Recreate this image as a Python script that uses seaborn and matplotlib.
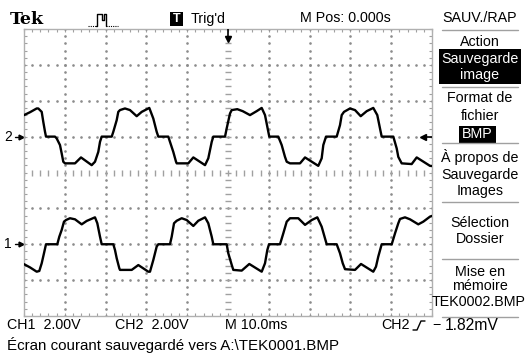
import numpy as np
import pandas as pd
import matplotlib
matplotlib.use("Agg")
import matplotlib.pyplot as plt
import matplotlib.transforms as mtransforms
from matplotlib.patches import Rectangle
from matplotlib.lines import Line2D
import seaborn as sns

ms_per_div = 10.0
volts_per_div = 2.0
ch1_offset_div = -2.0
ch2_offset_div = 1.0
trig_time_ms = 50.0

ch2_t = [0.0, 1.47, 3.11, 3.50, 4.34, 4.73, 5.15, 5.39, 7.60, 8.01, 8.82, 9.24, 9.63,
         10.05, 12.50, 13.97, 16.59, 17.40, 18.21, 18.63, 19.04, 21.50, 21.89, 22.72,
         23.11, 23.53, 24.75, 25.98, 27.62, 28.85, 30.71, 31.69, 32.52, 32.92, 35.37,
         35.78, 36.59, 37.26, 37.43, 40.27, 41.50, 44.37, 45.17, 46.01, 46.40, 49.27,
         49.68, 50.49, 50.91, 52.28, 53.60, 55.39, 57.03, 58.26, 59.07, 59.88, 60.12,
         62.33, 63.16, 63.97, 64.39, 65.20, 67.65, 68.88, 72.13, 72.96, 73.36, 74.02,
         76.64, 77.45, 77.87, 78.43, 79.90, 81.13, 82.53, 84.00, 85.61, 86.59, 87.25,
         87.67, 90.52, 91.35, 91.74, 92.57, 95.02, 96.25, 99.51, 100.0]
ch2_v = [1.20, 1.36, 1.57, 1.57, 1.38, 0.82, 0.27, 0.0, 0.0, -0.10, -0.47, -0.94, -1.40,
         -1.49, -1.49, -1.16, -1.59, -1.40, -0.85, -0.29, 0.0, 0.0, 0.27, 0.92,
         1.38, 1.48, 1.57, 1.48, 1.14, 1.38, 1.60, 1.01, 0.27, 0.0, 0.0,
         -0.29, -0.85, -1.40, -1.49, -1.49, -1.16, -1.59, -1.21, -0.29, 0.0, 0.0,
         0.46, 1.29, 1.48, 1.53, 1.42, 1.20, 1.42, 1.60, 1.20, 0.27, 0.0,
         0.0, -0.47, -1.13, -1.40, -1.49, -1.49, -1.16, -1.63, -1.21, -0.47, 0.0,
         0.0, 0.64, 1.20, 1.38, 1.57, 1.48, 1.14, 1.42, 1.60, 1.20, 0.46,
         0.0, 0.0, -0.66, -1.13, -1.49, -1.53, -1.16, -1.63, -1.64]

ch1_t = [0.0, 1.47, 3.11, 3.75, 4.34, 4.90, 5.39, 8.16, 8.65, 9.24, 9.80, 10.29, 11.27,
         12.50, 14.14, 15.37, 17.40, 17.97, 18.63, 19.04, 21.89, 22.30, 22.72, 23.36,
         23.53, 26.40, 28.02, 30.47, 30.88, 31.69, 32.52, 32.92, 35.78, 36.20, 36.77,
         37.43, 38.65, 39.88, 41.50, 42.72, 44.37, 45.17, 46.01, 46.40, 49.68, 50.07,
         50.91, 51.30, 53.36, 55.22, 58.26, 59.07, 59.64, 60.05, 62.75, 63.56, 64.39,
         65.20, 67.23, 68.88, 70.52, 71.89, 72.96, 73.77, 74.19, 76.64, 77.45, 78.12,
         78.68, 81.13, 82.60, 85.61, 86.27, 86.83, 87.67, 90.13, 90.94, 91.74, 92.16,
         93.38, 94.61, 96.64, 97.87, 99.51, 100.0]
ch1_v = [-1.11, -1.29, -1.53, -1.49, -1.06, -0.50, 0.0, 0.0, 0.42, 0.80, 1.26, 1.35, 1.45,
         1.39, 1.11, 1.30, 1.50, 1.17, 0.42, 0.0, 0.0, -0.32, -0.78, -1.34,
         -1.43, -1.43, -1.16, -1.53, -1.53, -0.88, -0.13, 0.0, 0.0, 0.42, 1.17,
         1.31, 1.45, 1.35, 1.02, 1.31, 1.50, 1.17, 0.42, 0.0, 0.0, -0.50,
         -1.15, -1.43, -1.47, -1.10, -1.53, -1.06, -0.32, 0.0, 0.0, 0.61, 1.26,
         1.45, 1.45, 1.08, 1.35, 1.50, 0.98, 0.33, 0.0, 0.0, -0.50, -1.06,
         -1.39, -1.43, -1.10, -1.53, -1.25, -0.69, 0.0, 0.0, 0.61, 1.17, 1.41,
         1.50, 1.39, 1.11, 1.26, 1.54, 1.58]

top_texts = ["Tek", "Trig'd", "M Pos: 0.000s", "SAUV./RAP"]
bottom_texts = ["CH1  2.00V", "CH2  2.00V", "M 10.0ms", "CH2"]
trig_level_parts = ["\u2212", "1.82mV"]
status_text = "\u00c9cran courant sauvegard\u00e9 vers A:\\TEK0001.BMP"

# ---------------- figure ----------------
sns.set_theme(style="white")
plt.rcParams["font.family"] = ["Liberation Sans", "DejaVu Sans"]

W, H = 525, 354
fig = plt.figure(figsize=(W / 100, H / 100), dpi=100)
fig.patch.set_facecolor("white")
ax = fig.add_axes([24 / W, 1 - 316 / H, 408 / W, 287 / H])
ax.set_facecolor("white")

GRID = "#8c8c8c"
TICKC = "#a0a0a0"
BORDER = "#b0b0b0"

def fx(x):
    return x / W

def fy(y):
    return 1 - y / H

def ftext(x, y, s, ha="left", **kw):
    kw.setdefault("fontsize", 10.3)
    kw.setdefault("color", "black")
    fig.text(fx(x), fy(y), s, ha=ha, va="center", **kw)

def fline(xs, ys, **kw):
    fig.add_artist(Line2D([fx(v) for v in xs], [fy(v) for v in ys],
                          transform=fig.transFigure, **kw))

def frect(x0, y0, x1, y1, **kw):
    fig.add_artist(Rectangle((fx(x0), fy(y1)), fx(x1) - fx(x0), fy(y0) - fy(y1),
                             transform=fig.transFigure, **kw))

# graticule: dotted grid lines
ndiv_x, ndiv_y = 10, 8
xmax = ndiv_x * ms_per_div
minor_x = np.arange(0, xmax + 0.01, ms_per_div / 5)
minor_y = np.arange(-4, 4.001, 0.2)
for k in range(1, ndiv_x):
    xv = k * ms_per_div
    if k == ndiv_x // 2:
        continue
    ax.plot(np.full(minor_y.size, xv), minor_y, ls="none", marker="o", ms=1.9,
            color=GRID, mew=0, zorder=2)
for k in range(-3, 4):
    if k == 0:
        continue
    ax.plot(minor_x, np.full(minor_x.size, k), ls="none", marker="o", ms=1.9,
            color=GRID, mew=0, zorder=2)
# centre lines with little ticks
ax.plot(minor_x, np.zeros(minor_x.size), ls="none", marker="|", ms=4.5, mew=1.0,
        color=TICKC, zorder=2)
ax.plot(np.full(minor_y.size, xmax / 2), minor_y, ls="none", marker="_", ms=4.5, mew=1.0,
        color=TICKC, zorder=2)

# traces
df = pd.concat([
    pd.DataFrame({"t": ch1_t, "div": np.array(ch1_v) / volts_per_div + ch1_offset_div, "ch": "CH1"}),
    pd.DataFrame({"t": ch2_t, "div": np.array(ch2_v) / volts_per_div + ch2_offset_div, "ch": "CH2"}),
])
for ch in ["CH1", "CH2"]:
    sns.lineplot(data=df[df["ch"] == ch], x="t", y="div", sort=False, estimator=None,
                 color="black", lw=1.7, ax=ax, zorder=3)

ax.set_xlim(0, xmax)
ax.set_ylim(-4, 4)
ax.set_xticks(np.arange(0, xmax + 0.01, ms_per_div))
ax.set_xticks(minor_x, minor=True)
ax.set_yticks(np.arange(-4, 5, 1))
ax.set_yticks(minor_y, minor=True)
ax.tick_params(which="both", direction="in", length=2.5, width=0.8, color=TICKC,
               top=True, right=True, bottom=True, left=True,
               labelbottom=False, labelleft=False)
ax.set_xlabel("")
ax.set_ylabel("")
for sp in ax.spines.values():
    sp.set_color(BORDER)
    sp.set_linewidth(1.0)

# trigger position arrow (top) and trigger level arrow (right)
ax.plot([trig_time_ms, trig_time_ms], [4.0, 3.72], color="black", lw=1.2, zorder=4)
ax.plot([trig_time_ms], [3.72], marker="v", ms=5, color="black", zorder=4)
ax.plot([97.9, 100], [ch2_offset_div, ch2_offset_div], color="black", lw=1.2, zorder=4)
ax.plot([97.9], [ch2_offset_div], marker="<", ms=5, color="black", zorder=4)

# channel ground markers
blend = mtransforms.blended_transform_factory(ax.transAxes, ax.transData)
for lab, off in [("2", ch2_offset_div), ("1", ch1_offset_div)]:
    ax.text(-0.039, off, lab, transform=blend, ha="center", va="center", fontsize=10,
            color="black")
    ax.plot([-0.021, -0.006], [off, off], transform=blend, color="black", lw=1.0,
            clip_on=False)
    ax.plot([-0.008], [off], transform=blend, marker=">", ms=3.5, color="black",
            clip_on=False)

# ---------------- top line ----------------
ftext(10, 19, top_texts[0], family="DejaVu Serif", fontweight="bold", fontsize=12.5)
# pulse icon
fline([88, 96], [26, 26], color="black", lw=0.8, ls=(0, (1, 1)))
fline([96, 97, 97, 102, 102, 104, 104, 106, 106], [26, 26, 14, 14, 20, 20, 14, 14, 26],
      color="black", lw=1.0)
fline([106, 118], [26, 26], color="black", lw=0.8, ls=(0, (1, 1)))
frect(170, 12.5, 183, 25.5, facecolor="black", edgecolor="none")
ftext(176.5, 19, "T", ha="center", color="white", fontweight="bold", fontsize=9)
ftext(191, 18.5, top_texts[1])
ftext(345, 18.5, top_texts[2], ha="center")
ftext(480, 18.5, top_texts[3], ha="center")

# ---------------- right menu ----------------
SEP = "#a0a0a0"
for yy in [29.5, 87.3, 143.5, 201.7, 259.3, 317.3]:
    fline([442, 518], [yy, yy], color=SEP, lw=1.0)
ftext(480, 41.5, "Action", ha="center")
frect(439, 49.5, 521, 84, facecolor="black", edgecolor="none")
ftext(480, 58.5, "Sauvegarde", ha="center", color="white")
ftext(480, 75, "image", ha="center", color="white")
ftext(480, 98, "Format de", ha="center")
ftext(480, 116, "fichier", ha="center")
frect(459, 126.5, 496, 142.5, facecolor="black", edgecolor="none")
ftext(477.5, 134.5, "BMP", ha="center", color="white")
ftext(480, 157, "\u00c0 propos de", ha="center")
ftext(480, 174.5, "Sauvegarde", ha="center")
ftext(480, 190.5, "Images", ha="center")
ftext(480, 223, "S\u00e9lection", ha="center")
ftext(480, 239, "Dossier", ha="center")
ftext(480, 271.5, "Mise en", ha="center")
ftext(480, 286.5, "m\u00e9moire", ha="center")
ftext(479, 302, "TEK0002.BMP", ha="center")

# ---------------- bottom lines ----------------
ftext(7, 325, bottom_texts[0])
ftext(115, 325, bottom_texts[1])
ftext(225, 325, bottom_texts[2])
ftext(381, 325, bottom_texts[3])
fline([413, 417, 421, 425], [330, 330, 321, 321], color="black", lw=1.0)
ftext(432, 325, trig_level_parts[0])
ftext(445, 325, trig_level_parts[1], fontsize=11.3)
ftext(7, 345, status_text, fontsize=10.9)

fig.savefig("out.png", dpi=100, facecolor="white")
